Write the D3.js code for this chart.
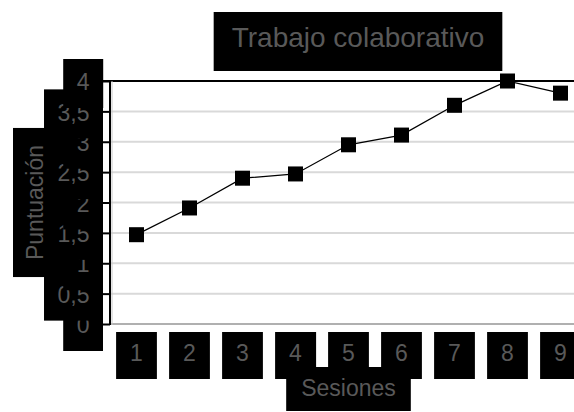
<!DOCTYPE html>
<html>
<head>
<meta charset="utf-8">
<script src="https://cdn.jsdelivr.net/npm/d3@7"></script>
<style>
  html, body { margin: 0; padding: 0; background: #ffffff; }
  svg { display: block; font-family: "Liberation Sans", Arial, sans-serif; }
</style>
</head>
<body>
<svg id="chart" width="574" height="412"></svg>
<script>
// Sessions and collaborative-work scores
const sessions = ["1", "2", "3", "4", "5", "6", "7", "8", "9"];
const scores = [1.47, 1.91, 2.40, 2.47, 2.95, 3.11, 3.60, 4.00, 3.80];
const yTicks = [0, 0.5, 1, 1.5, 2, 2.5, 3, 3.5, 4];
const yTickLabels = ["0", "0,5", "1", "1,5", "2", "2,5", "3", "3,5", "4"];

const chartTitle = "Trabajo colaborativo";
const xTitle = "Sesiones";
const yTitle = "Puntuación";

const svg = d3.select("#chart");
const W = 574, H = 412;
const plot = { left: 110, top: 81, bottom: 324, right: 587 };
const textColor = "#595959";

const x = d3.scaleBand().domain(sessions).range([plot.left, plot.right]).padding(0);
const y = d3.scaleLinear().domain([0, 4]).range([plot.bottom, plot.top]);
const xc = d => x(d) + x.bandwidth() / 2;

// Label on a black plate; (px, py) is the centre of the cap height
function plateLabel(parent, px, py, str, size, anchor, rotate, pad) {
  const g = parent.append("g")
    .attr("transform", `translate(${px},${py}) rotate(${rotate || 0})`);
  const rect = g.append("rect").attr("fill", "#000");
  const t = g.append("text")
    .attr("x", 0)
    .attr("y", 0.358 * size)
    .attr("text-anchor", anchor)
    .attr("font-size", size)
    .attr("fill", textColor)
    .text(str);
  const bb = t.node().getBBox();
  rect.attr("x", bb.x - pad.x)
    .attr("width", bb.width + 2 * pad.x)
    .attr("y", -pad.top)
    .attr("height", pad.top + pad.bottom);
  return g;
}

// Light horizontal gridlines
svg.append("g")
  .selectAll("line")
  .data(yTicks.filter(v => v > 0 && v < 4))
  .join("line")
  .attr("x1", plot.left + 1).attr("x2", W)
  .attr("y1", d => y(d)).attr("y2", d => y(d))
  .attr("stroke", "#d9d9d9").attr("stroke-width", 2);

// Baseline along the category axis
svg.append("line")
  .attr("x1", plot.left).attr("x2", W)
  .attr("y1", y(0)).attr("y2", y(0))
  .attr("stroke", "#b0b0b0").attr("stroke-width", 2);

// Upper frame line
svg.append("line")
  .attr("x1", plot.left - 8).attr("x2", W)
  .attr("y1", y(4)).attr("y2", y(4))
  .attr("stroke", "#000").attr("stroke-width", 2);

// Series line and square markers
svg.append("path")
  .datum(scores)
  .attr("fill", "none")
  .attr("stroke", "#000")
  .attr("stroke-width", 1.3)
  .attr("d", d3.line().x((d, i) => xc(sessions[i])).y(d => y(d)));

const m = 15;
svg.append("g")
  .selectAll("rect")
  .data(scores)
  .join("rect")
  .attr("x", (d, i) => xc(sessions[i]) - m / 2)
  .attr("y", d => y(d) - m / 2)
  .attr("width", m).attr("height", m)
  .attr("fill", "#000");

// Axis title (vertical), drawn beneath the tick labels
plateLabel(svg, 35, (plot.top + plot.bottom) / 2, yTitle, 23, "middle", -90,
  { x: 17, top: 22, bottom: 32 });

// Value tick labels, bottom to top
const yLab = svg.append("g");
yTicks.forEach((v, i) => {
  plateLabel(yLab, 89.5, y(v) + 1, yTickLabels[i], 23, "end", 0,
    { x: 13.5, top: 23, bottom: 26 });
});

// Value axis with tick marks
const yAxis = d3.axisLeft(y).tickValues(yTicks).tickSize(8).tickFormat("");
const yAxisG = svg.append("g")
  .attr("transform", `translate(${plot.left},0)`)
  .call(yAxis);
yAxisG.select(".domain").remove();
yAxisG.selectAll(".tick line").attr("stroke", "#000").attr("stroke-width", 2);
svg.append("line")
  .attr("x1", plot.left + 2).attr("x2", plot.left + 2)
  .attr("y1", y(4)).attr("y2", y(0) + 1)
  .attr("stroke", "#c8c8c8").attr("stroke-width", 1);
svg.append("line")
  .attr("x1", plot.left).attr("x2", plot.left)
  .attr("y1", y(4) - 1).attr("y2", y(0) + 1)
  .attr("stroke", "#000").attr("stroke-width", 2);

// Category tick labels
const xLab = svg.append("g");
sessions.forEach(s => {
  plateLabel(xLab, xc(s), 353, s, 23, "middle", 0,
    { x: 14, top: 21, bottom: 26 });
});

// Category axis title
plateLabel(svg, (plot.left + plot.right) / 2, 388, xTitle, 23, "middle", 0,
  { x: 15, top: 21, bottom: 23 });

// Chart title
plateLabel(svg, 358, 37, chartTitle, 28, "middle", 0,
  { x: 18, top: 25, bottom: 34 });
</script>
</body>
</html>
